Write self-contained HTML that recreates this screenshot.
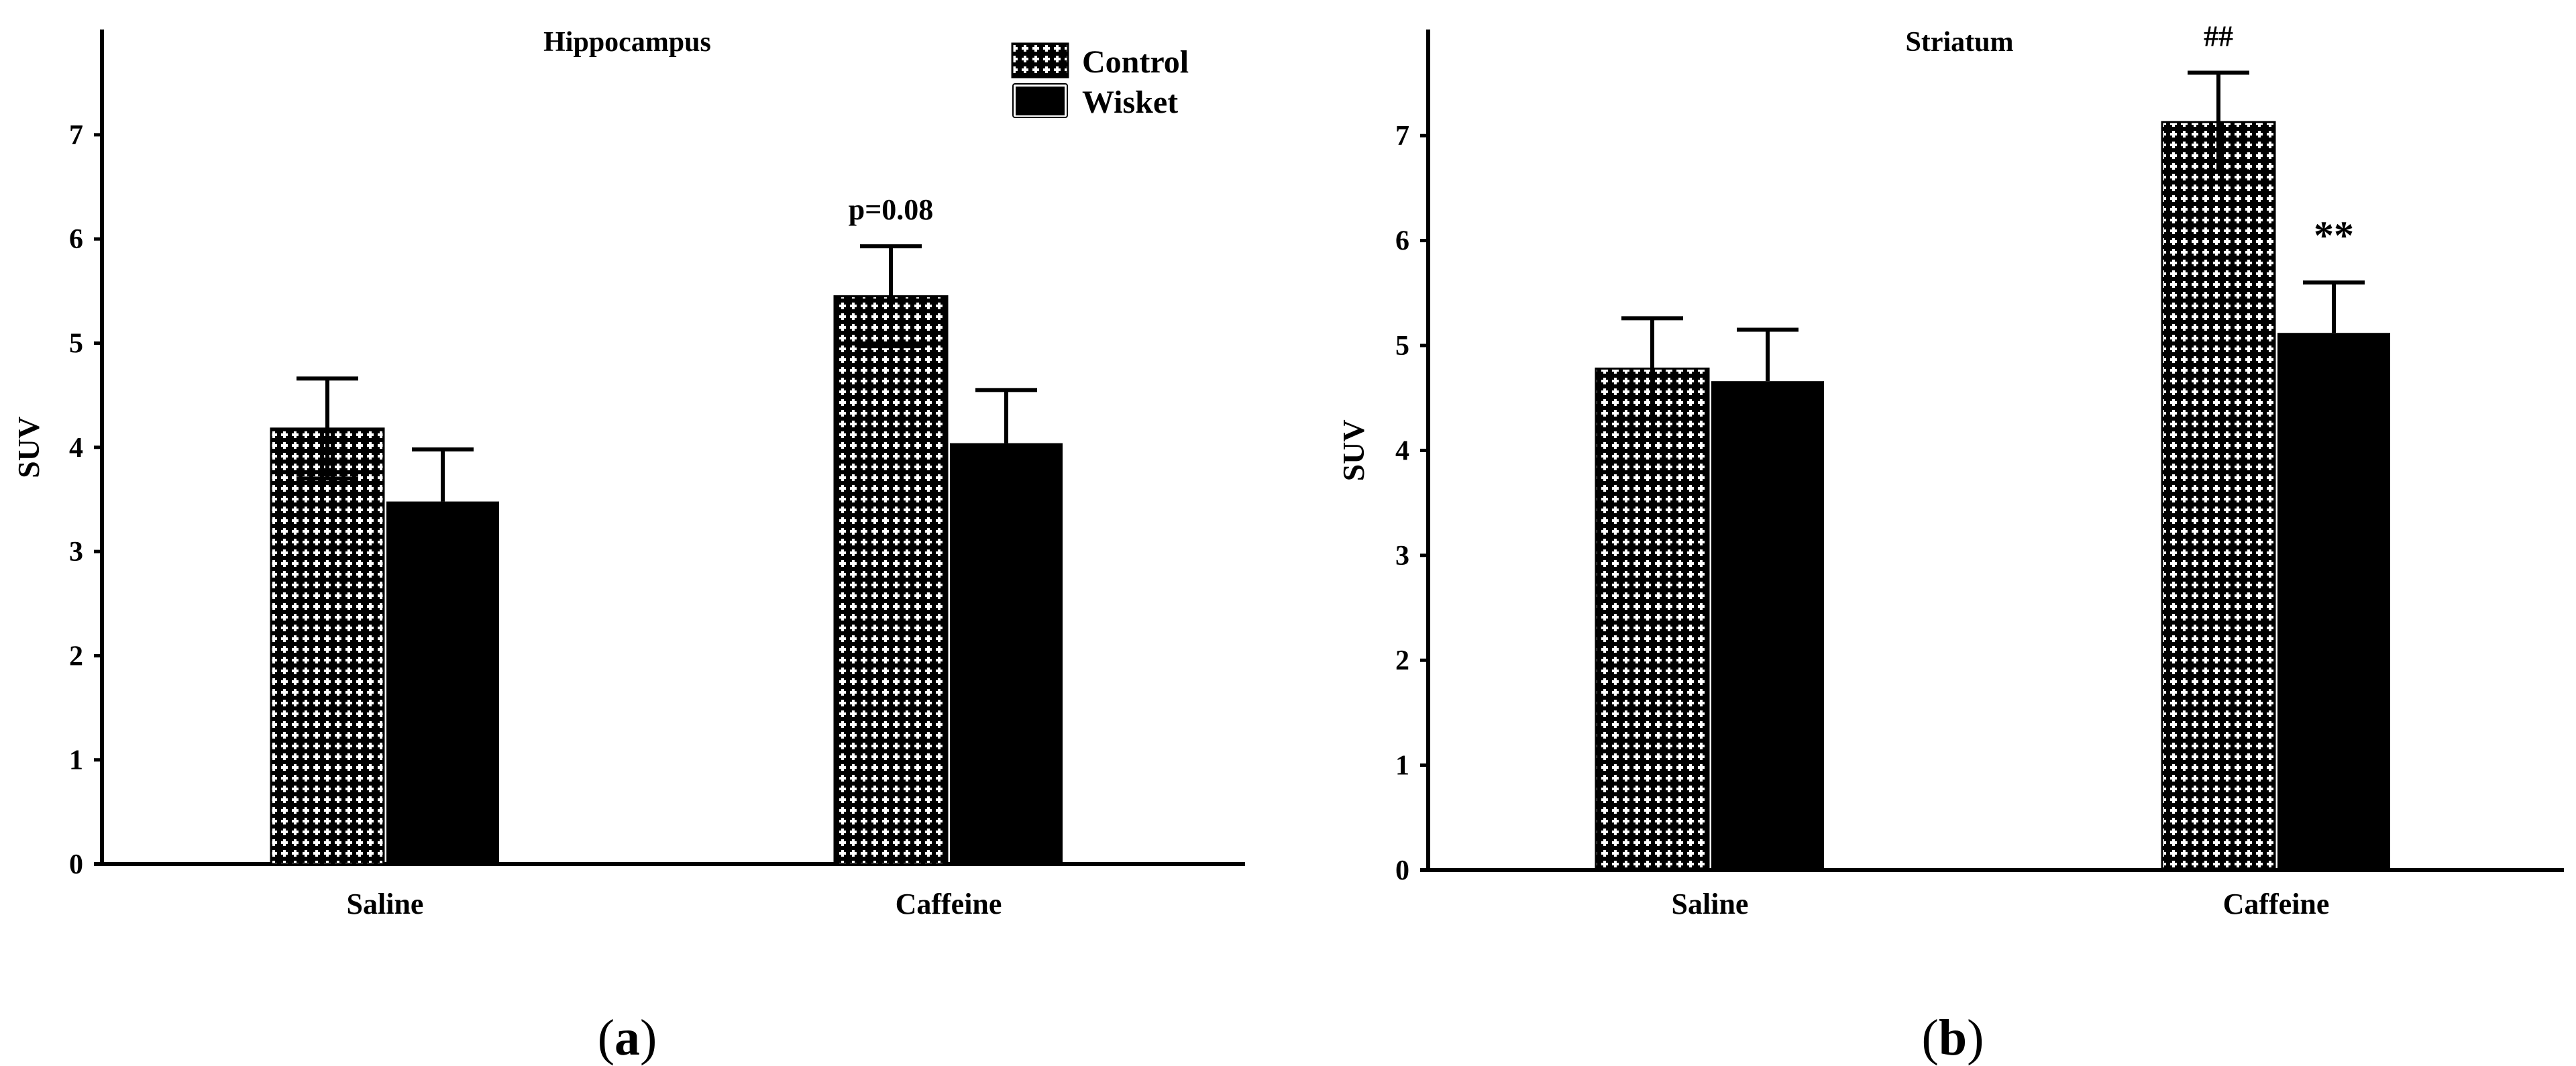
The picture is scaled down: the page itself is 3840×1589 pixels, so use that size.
<!DOCTYPE html>
<html><head><meta charset="utf-8"><style>
html,body{margin:0;padding:0;background:#fff;width:3840px;height:1589px;overflow:hidden}
svg{display:block;font-family:"Liberation Serif",serif}
</style></head><body>
<svg id="fig" width="3840" height="1589" viewBox="0 0 3840 1589">
<defs>
<pattern id="cross" width="16" height="16" patternUnits="userSpaceOnUse">
<rect width="16" height="16" fill="#000"/>
<rect x="3" y="6" width="10" height="4" fill="#fff"/>
<rect x="6" y="3" width="4" height="10" fill="#fff"/>
</pattern>
</defs>
<g id="legend">
<rect x="1509" y="65" width="83" height="50" fill="url(#cross)" stroke="#000" stroke-width="3"/>
<text x="1613" y="108" font-size="48" font-weight="bold">Control</text>
<rect x="1510" y="125" width="81" height="50" fill="#fff" stroke="#000" stroke-width="2" rx="3"/>
<rect x="1514" y="129" width="73" height="43" fill="#000"/>
<text x="1613" y="168" font-size="48" font-weight="bold">Wisket</text>
</g>
<text x="935" y="1572" font-size="76" text-anchor="middle">(<tspan font-weight="bold">a</tspan>)</text>
<text x="2911" y="1572" font-size="76" text-anchor="middle">(<tspan font-weight="bold">b</tspan>)</text>
</svg>
<script>
const categories = ["Saline", "Caffeine"];
const yTicks = [0, 1, 2, 3, 4, 5, 6, 7];
const hippoControl = [4.18, 5.45];
const hippoControlErr = [0.48, 0.48];
const hippoWisket = [3.48, 4.04];
const hippoWisketErr = [0.50, 0.51];
const striControl = [4.78, 7.13];
const striControlErr = [0.48, 0.47];
const striWisket = [4.66, 5.12];
const striWisketErr = [0.49, 0.48];
const hippoAnnot = ["", "p=0.08"];
const hippoAnnotW = ["", ""];
const striAnnot = ["", "##"];
const striAnnotW = ["", "**"];

const NS = "http://www.w3.org/2000/svg";
const svg = document.getElementById("fig");
function mk(tag, attrs, parent) {
  const e = document.createElementNS(NS, tag);
  for (const k in attrs) e.setAttribute(k, attrs[k]);
  (parent || svg).appendChild(e);
  return e;
}

function panel(cfg) {
  const g = mk("g", {});
  
  
  const y = v => cfg.base - v * cfg.unit;
  const xc = i => cfg.catX[i];
  const ya = mk("line", {x1: cfg.axX, y1: cfg.top, x2: cfg.axX, y2: cfg.base + 3, stroke: "#000", "stroke-width": 6}, g);
  
  
  const xa = mk("line", {x1: cfg.axX - 12, y1: cfg.base, x2: cfg.axEnd, y2: cfg.base, stroke: "#000", "stroke-width": 6}, g);
  
  
  yTicks.forEach(t => {
    const tk = mk("line", {x1: cfg.axX - 12, y1: y(t), x2: cfg.axX, y2: y(t), stroke: "#000", "stroke-width": 5}, g);
    
    
    const tl = mk("text", {x: cfg.axX - 28, y: y(t) + 14, "font-size": 42, "font-weight": "bold", "text-anchor": "end"}, g);
    tl.textContent = t;
    
    
  });
  const yt = mk("text", {x: 0, y: 0, "font-size": 46, "font-weight": "bold", "text-anchor": "middle", transform: `translate(${cfg.suvX},${y(4)}) rotate(-90)`}, g);
  yt.textContent = "SUV";
  
  
  const tt = mk("text", {x: cfg.titleX, y: 76, "font-size": 42, "font-weight": "bold", "text-anchor": "middle"}, g);
  tt.textContent = cfg.title;
  
  
  const bw = 168;
  categories.forEach((c, i) => {
    const cx = xc(i);
    const cl = mk("text", {x: cx, y: 1362, "font-size": 44, "font-weight": "bold", "text-anchor": "middle"}, g);
    cl.textContent = c;
    
    
    const cv = cfg.control[i], ce = cfg.controlErr[i];
    const b1 = mk("rect", {x: cx - bw - 2, y: y(cv), width: bw, height: cfg.base - y(cv), fill: "url(#cross)", stroke: "#000", "stroke-width": 3}, g);
    
    
    const bx1 = cx - bw / 2 - 2;
    const e1 = mk("path", {d: `M${bx1},${y(cv - ce)}V${y(cv + ce)}M${bx1 - 46},${y(cv + ce)}H${bx1 + 46}M${bx1 - 46},${y(cv - ce)}H${bx1 + 46}`, stroke: "#000", "stroke-width": 6, fill: "none"}, g);
    
    
    const wv = cfg.wisket[i], we = cfg.wisketErr[i];
    const b2 = mk("rect", {x: cx + 2, y: y(wv), width: bw, height: cfg.base - y(wv), fill: "#000"}, g);
    
    
    const bx2 = cx + 2 + bw / 2;
    const e2 = mk("path", {d: `M${bx2},${y(wv)}V${y(wv + we)}M${bx2 - 46},${y(wv + we)}H${bx2 + 46}`, stroke: "#000", "stroke-width": 6, fill: "none"}, g);
    
    
    if (cfg.annot[i]) {
      const a = mk("text", {x: bx1, y: y(cv + ce) - 40, "font-size": 44, "font-weight": "bold", "text-anchor": "middle"}, g);
      a.textContent = cfg.annot[i];
      
      
    }
    if (cfg.annotW[i]) {
      const a = mk("text", {x: bx2, y: y(wv + we) - 50, "font-size": 60, "font-weight": "bold", "text-anchor": "middle"}, g);
      a.textContent = cfg.annotW[i];
      
      
    }
  });
}

panel({name: "chart-hippocampus", title: "Hippocampus", titleX: 935, axX: 152, axEnd: 1856, top: 44, base: 1288, unit: 155.3, suvX: 58, catX: [574, 1414],
  control: hippoControl, controlErr: hippoControlErr, wisket: hippoWisket, wisketErr: hippoWisketErr, annot: hippoAnnot, annotW: hippoAnnotW});
panel({name: "chart-striatum", title: "Striatum", titleX: 2921, axX: 2129, axEnd: 3822, top: 44, base: 1297, unit: 156.4, suvX: 2033, catX: [2549, 3393],
  control: striControl, controlErr: striControlErr, wisket: striWisket, wisketErr: striWisketErr, annot: striAnnot, annotW: striAnnotW});
</script>
</body></html>
